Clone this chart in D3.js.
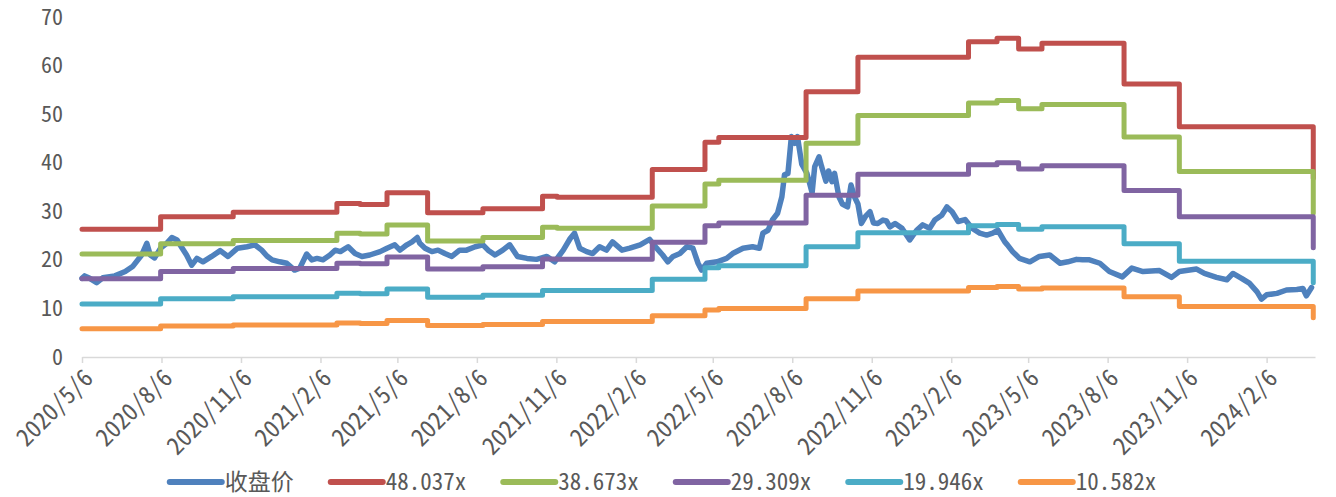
<!DOCTYPE html>
<meta charset="utf-8">
<script src="https://d3js.org/d3.v7.min.js"></script>
<style>
  body { margin: 0; background: #fff; }
  text { font-family: "Noto Sans Mono CJK SC", "Noto Sans CJK SC", sans-serif; fill: #595959; }
</style>
<body>
<div id="chart"></div>
<script>

var seriesNames = ["收盘价", "48.037x", "38.673x", "29.309x", "19.946x", "10.582x"];
var colors = ["#4f81bd", "#c0504d", "#9bbb59", "#8064a2", "#4bacc6", "#f79646"];

var tickLabels = ["2020/5/6", "2020/8/6", "2020/11/6", "2021/2/6", "2021/5/6", "2021/8/6",
  "2021/11/6", "2022/2/6", "2022/5/6", "2022/8/6", "2022/11/6", "2023/2/6", "2023/5/6",
  "2023/8/6", "2023/11/6", "2024/2/6"];
var yTicks = [0, 10, 20, 30, 40, 50, 60, 70];

// dates are kept as days after 2020/5/6
var startDate = new Date(2020, 4, 6);
var lastDay = 1427;

var priceDay = [0,3,9,17,24,38,50,59,69,75,79,84,91,98,104,110,116,121,127,133,
  140,150,160,169,180,191,200,208,214,220,229,237,246,252,260,266,272,279,287,293,
  299,308,316,324,333,345,353,362,368,376,382,388,391,397,405,412,420,428,437,445,
  455,464,470,478,487,495,504,515,526,538,547,557,565,570,576,584,591,599,607,614,
  625,634,646,657,665,672,678,684,692,700,707,713,717,723,735,746,753,765,776,784,
  788,794,799,805,810,813,817,821,825,828,833,839,845,848,853,856,861,864,868,871,
  876,880,886,890,894,898,902,907,912,916,921,927,931,935,941,949,958,966,973,981,
  987,995,1001,1007,1014,1022,1030,1039,1047,1054,1060,1068,1071,1077,1085,1097,1108,1120,1132,1141,
  1151,1158,1166,1178,1189,1204,1215,1228,1247,1261,1270,1290,1299,1313,1325,1332,1342,1351,1360,1365,
  1371,1383,1394,1406,1413,1417,1423];
var price = [16.2,16.7,16.2,15.3,16.3,16.7,17.6,18.7,21.0,23.4,21.0,20.4,22.4,23.4,24.6,24.1,22.4,21.0,18.9,20.3,
  19.6,20.7,21.9,20.7,22.4,22.7,23.1,22.0,20.8,20.0,19.6,19.3,17.9,18.3,21.2,20.0,20.3,20.0,21.0,22.0,
  21.7,22.7,21.3,20.7,21.0,21.7,22.4,23.1,22.0,23.1,23.7,24.6,23.4,22.4,21.7,22.0,21.3,20.7,22.0,22.0,
  22.7,23.1,22.0,21.0,22.0,23.1,20.7,20.3,20.1,20.7,19.6,22.0,24.4,25.5,22.4,21.7,21.3,22.7,22.0,23.7,
  22.0,22.4,23.1,24.2,22.4,21.0,19.6,20.7,21.3,22.7,22.4,19.3,17.9,19.3,19.6,20.3,21.3,22.4,22.7,22.4,
  25.5,26.1,28.2,29.6,33.0,37.5,37.8,45.4,44.0,45.4,39.7,37.8,33.8,39.2,41.2,39.2,36.2,38.3,36.1,37.8,
  33.0,31.5,30.9,35.4,33.0,31.5,27.5,29.0,29.9,27.6,27.5,28.2,28.0,26.8,27.5,26.5,24.1,26.1,27.2,26.5,
  28.2,29.2,30.9,29.9,27.9,28.3,26.5,25.5,25.1,25.5,26.1,23.7,23.1,21.7,20.3,19.6,20.7,21.0,19.3,19.6,
  20.1,20.0,20.0,19.3,17.6,16.5,18.3,17.6,17.8,16.4,17.6,18.1,17.2,16.4,15.9,17.2,16.2,15.2,13.4,11.9,
  12.8,13.1,13.8,13.9,14.1,12.6,14.3];

// PE band steps: day the value changes, then the band value from that day on
var stepDay = [0,91,175,295,322,353,400,464,533,550,660,721,737,838,898,1026,1059,1084,1111,1206,1270,1425];
var band48 = [26.3,28.9,29.8,31.6,31.4,33.8,29.7,30.5,33.1,32.9,38.6,44.2,45.2,54.6,61.7,64.9,65.6,63.4,64.6,56.2,47.4,36.8];
var band38 = [21.2,23.3,24.0,25.5,25.3,27.2,23.9,24.6,26.7,26.5,31.1,35.6,36.4,44.0,49.7,52.3,52.8,51.1,52.0,45.3,38.2,29.6];
var band29 = [16.1,17.6,18.2,19.3,19.2,20.6,18.1,18.6,20.2,20.1,23.6,27.0,27.6,33.3,37.6,39.6,40.0,38.7,39.4,34.3,28.9,22.5];
var band19 = [10.9,12.0,12.4,13.1,13.0,14.0,12.3,12.7,13.7,13.7,16.0,18.4,18.8,22.7,25.6,27.0,27.3,26.3,26.8,23.3,19.7,15.3];
var band10 = [5.8,6.4,6.6,7.0,6.9,7.5,6.5,6.7,7.3,7.3,8.5,9.7,10.0,12.0,13.6,14.3,14.5,14.0,14.2,12.4,10.4,8.1];

var width = 1336, height = 497;

var svg = d3.select("#chart")
  .append("svg")
    .attr("width", width)
    .attr("height", height);

var dayToDate = function(n) { return d3.timeDay.offset(startDate, n); };
var parseTick = d3.timeParse("%Y/%m/%d");

var x = d3.scaleTime()
  .domain([startDate, dayToDate(lastDay)])
  .range([82, 1315]);

var y = d3.scaleLinear()
  .domain([0, 70])
  .range([357, 17]);

// x axis
var xAxis = svg.append("g")
  .attr("transform", "translate(0,357)")
  .call(d3.axisBottom(x)
    .tickValues(tickLabels.map(parseTick))
    .tickSize(6)
    .tickSizeOuter(0)
    .tickFormat(function(d, i) { return tickLabels[i]; }));
xAxis.select(".domain").attr("stroke", "#d9d9d9").attr("stroke-width", 1.5);
xAxis.selectAll(".tick line").attr("stroke", "#d9d9d9").attr("stroke-width", 1.5);
xAxis.selectAll(".tick text")
  .attr("font-size", 24)
  .attr("fill", "#595959")
  .attr("text-anchor", "end")
  .attr("transform", "translate(0,11) rotate(-45)")
  .attr("x", 0)
  .attr("y", 0)
  .attr("dy", "0.7em");

// y axis labels only
var yAxis = svg.append("g")
  .attr("transform", "translate(82,0)")
  .call(d3.axisLeft(y).tickValues(yTicks).tickSize(0).tickPadding(19));
yAxis.select(".domain").remove();
yAxis.selectAll(".tick text").attr("font-size", 22).attr("fill", "#595959");

// price line
var priceLine = d3.line()
  .x(function(d, i) { return x(dayToDate(priceDay[i])); })
  .y(function(d) { return y(d); });

svg.append("path")
  .datum(price)
  .attr("fill", "none")
  .attr("stroke", colors[0])
  .attr("stroke-width", 5.5)
  .attr("stroke-linejoin", "round")
  .attr("stroke-linecap", "round")
  .attr("d", priceLine);

// bands
var bandLine = d3.line()
  .curve(d3.curveStepAfter)
  .x(function(d, i) { return x(dayToDate(stepDay[i])); })
  .y(function(d) { return y(d); });

var bands = [band48, band38, band29, band19, band10];
bands.forEach(function(b, k) {
  svg.append("path")
    .datum(b)
    .attr("fill", "none")
    .attr("stroke", colors[k + 1])
    .attr("stroke-width", 5)
    .attr("stroke-linejoin", "round")
    .attr("stroke-linecap", "round")
    .attr("d", bandLine);
});

// legend
var legend = svg.append("g");
var lx = 0;
seriesNames.forEach(function(name, i) {
  var item = legend.append("g").attr("transform", "translate(" + lx + ",0)");
  item.append("line")
    .attr("x1", 2).attr("x2", 54)
    .attr("y1", 0).attr("y2", 0)
    .attr("stroke", colors[i])
    .attr("stroke-width", 6)
    .attr("stroke-linecap", "round");
  var t = item.append("text")
    .attr("x", 57)
    .attr("dy", "0.35em")
    .attr("font-size", 23)
    .text(name);
  lx += 57 + t.node().getComputedTextLength() + 35;
});
lx -= 35;
legend.attr("transform", "translate(" + (662 - lx / 2) + ",482)");

</script>
</body>
